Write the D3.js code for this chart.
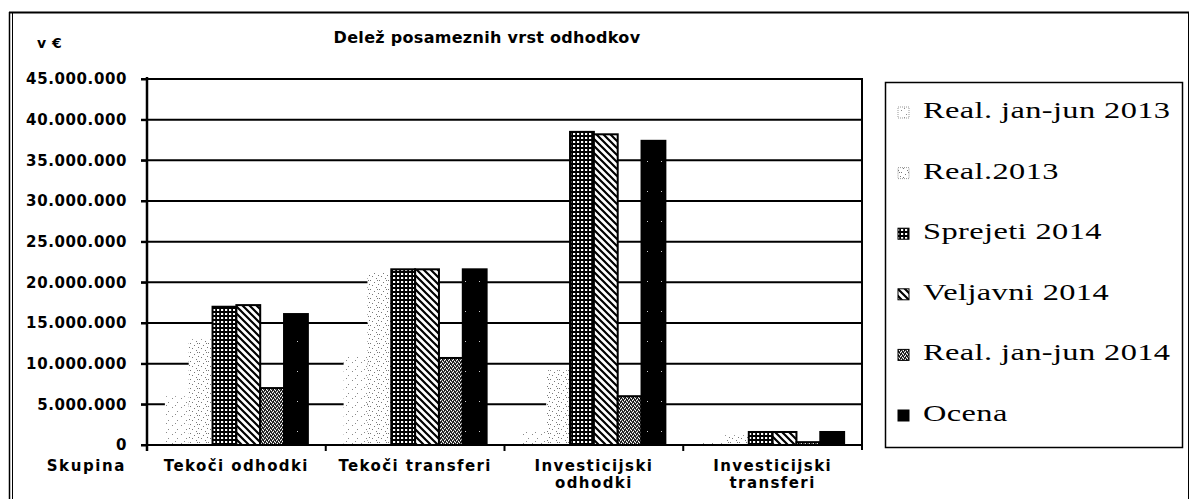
<!DOCTYPE html>
<html><head><meta charset="utf-8">
<script src="https://cdn.jsdelivr.net/npm/d3@7"></script>
<style>
html,body{margin:0;padding:0;background:#fff;}
svg{display:block;}
.ax{font-family:"DejaVu Sans",sans-serif;font-weight:bold;font-size:15px;fill:#000;}
.lg{font-family:"Liberation Serif","Times New Roman",serif;font-size:24px;fill:#000;}
</style></head>
<body>
<svg id="c" width="1194" height="499"></svg>
<script>
const categories = ["Tekoči odhodki", "Tekoči transferi", "Investicijski odhodki", "Investicijski transferi"];
const seriesNames = ["Real. jan-jun 2013", "Real.2013", "Sprejeti 2014", "Veljavni 2014", "Real. jan-jun 2014", "Ocena"];
const realJanJun2013 = [6000000, 11000000, 1600000, 300000];
const real2013 = [13000000, 21200000, 9200000, 1200000];
const sprejeti2014 = [17000000, 21600000, 38500000, 1600000];
const veljavni2014 = [17200000, 21600000, 38200000, 1600000];
const realJanJun2014 = [7000000, 10700000, 6000000, 350000];
const ocena = [16100000, 21600000, 37400000, 1600000];
const yTicks = [0, 5000000, 10000000, 15000000, 20000000, 25000000, 30000000, 35000000, 40000000, 45000000];
const titleText = "Delež posameznih vrst odhodkov";
const unitText = "v €";
const axisTitle = "Skupina";

const seriesValues = [realJanJun2013, real2013, sprejeti2014, veljavni2014, realJanJun2014, ocena];

const svg = d3.select("#c");
const locale = d3.formatLocale({decimal: ",", thousands: ".", grouping: [3], currency: ["", "€"]});
const fmt = locale.format(",d");

// patterns
const defs = svg.append("defs");
function dotPattern(id, dots, color) {
  const p = defs.append("pattern").attr("id", id).attr("patternUnits", "userSpaceOnUse").attr("width", 9).attr("height", 9);
  p.append("rect").attr("width", 9).attr("height", 9).attr("fill", "#fff");
  dots.forEach(d => p.append("rect").attr("x", d[0]).attr("y", d[1]).attr("width", 1).attr("height", 1).attr("fill", color));
}
dotPattern("p0", [[1, 2], [6, 6], [4, 0]], "#8a8a8a");
dotPattern("p1", [[1, 1], [5, 3], [3, 6], [7, 8], [0, 5], [8, 1]], "#777");
{
  const p = defs.append("pattern").attr("id", "p2").attr("patternUnits", "userSpaceOnUse").attr("width", 4).attr("height", 4);
  p.append("rect").attr("width", 4).attr("height", 4).attr("fill", "#000");
  p.append("rect").attr("x", 1).attr("y", 1).attr("width", 2.2).attr("height", 2).attr("fill", "#fff");
}
{
  const p = defs.append("pattern").attr("id", "p3").attr("patternUnits", "userSpaceOnUse").attr("width", 7).attr("height", 7);
  p.append("rect").attr("width", 7).attr("height", 7).attr("fill", "#fff");
  p.append("path").attr("d", "M-1,-1 L8,8 M-1,6 L1,8 M6,-1 L8,1").attr("stroke", "#000").attr("stroke-width", 2.2);
}
{
  const p = defs.append("pattern").attr("id", "p4").attr("patternUnits", "userSpaceOnUse").attr("width", 4).attr("height", 4);
  p.append("rect").attr("width", 4).attr("height", 4).attr("fill", "#555");
  [[0, 0], [2, 1], [1, 3], [3, 2]].forEach(d => p.append("rect").attr("x", d[0]).attr("y", d[1]).attr("width", 1).attr("height", 1).attr("fill", "#fff"));
  [[1, 1], [3, 0], [0, 2], [2, 3]].forEach(d => p.append("rect").attr("x", d[0]).attr("y", d[1]).attr("width", 1).attr("height", 1).attr("fill", "#000"));
}
{
  const p = defs.append("pattern").attr("id", "p5").attr("patternUnits", "userSpaceOnUse").attr("width", 14).attr("height", 30);
  p.append("rect").attr("width", 14).attr("height", 30).attr("fill", "#000");
  p.append("rect").attr("x", 3).attr("y", 11).attr("width", 1).attr("height", 1).attr("fill", "#ccc");
}
const fills = ["url(#p0)", "url(#p1)", "url(#p2)", "url(#p3)", "url(#p4)", "url(#p5)"];
const strokes = ["none", "none", "#000", "#000", "#000", "#000"];

// outer frame
svg.append("line").attr("x1", 9.5).attr("x2", 9.5).attr("y1", 12).attr("y2", 499).attr("stroke", "#000").attr("stroke-width", 1.5);
svg.append("line").attr("x1", 12.5).attr("x2", 12.5).attr("y1", 12).attr("y2", 499).attr("stroke", "#000").attr("stroke-width", 1);
svg.append("line").attr("x1", 9).attr("x2", 1189).attr("y1", 12.5).attr("y2", 12.5).attr("stroke", "#000").attr("stroke-width", 2);
svg.append("line").attr("x1", 1188.5).attr("x2", 1188.5).attr("y1", 12).attr("y2", 499).attr("stroke", "#000").attr("stroke-width", 1);

const pL = 147, pR = 862, pT = 79, pB = 445;
const x0 = d3.scaleBand().domain(categories).range([pL, pR]).padding(0);
const bw = x0.bandwidth();
const x1 = d3.scaleBand().domain(seriesNames).range([bw * 0.1, bw * 0.9]).padding(0);
const y = d3.scaleLinear().domain([0, 45000000]).range([pB, pT]);

// gridlines
svg.append("g").selectAll("line").data(yTicks.filter(t => t > 0)).join("line")
  .attr("x1", pL - 6).attr("x2", pR).attr("y1", d => y(d)).attr("y2", d => y(d))
  .attr("stroke", "#000").attr("stroke-width", 2);
// plot right border
svg.append("line").attr("x1", pR).attr("x2", pR).attr("y1", pT - 1).attr("y2", pB + 5).attr("stroke", "#000").attr("stroke-width", 2);

// bars
const g = svg.append("g");
categories.forEach((c, ci) => {
  seriesNames.forEach((s, si) => {
    const v = seriesValues[si][ci];
    g.append("rect")
      .attr("x", x0(c) + x1(s))
      .attr("y", y(v))
      .attr("width", x1.bandwidth())
      .attr("height", pB - y(v))
      .attr("fill", fills[si])
      .attr("stroke", strokes[si])
      .attr("stroke-width", 2);
  });
});

// axes lines
svg.append("line").attr("x1", pL).attr("x2", pL).attr("y1", pT - 2).attr("y2", pB + 6).attr("stroke", "#000").attr("stroke-width", 2.5);
svg.append("line").attr("x1", pL - 6).attr("x2", pR).attr("y1", pB).attr("y2", pB).attr("stroke", "#000").attr("stroke-width", 2);
const yAxis = svg.append("g").attr("transform", `translate(${pL},0)`)
  .call(d3.axisLeft(y).tickValues(yTicks).tickFormat(fmt).tickSize(6).tickPadding(14));
yAxis.select(".domain").remove();
yAxis.selectAll(".tick line").attr("stroke", "#000").attr("stroke-width", 2);
yAxis.selectAll(".tick text").attr("class", "ax").style("letter-spacing", "0.6px");
yAxis.attr("font-family", null).attr("font-size", null);

// x ticks
svg.append("g").selectAll("line").data(categories.slice(1)).join("line")
  .attr("x1", d => x0(d)).attr("x2", d => x0(d)).attr("y1", pB).attr("y2", pB + 6)
  .attr("stroke", "#000").attr("stroke-width", 2);

// category labels
categories.forEach(c => {
  const words = c.length > 16 ? c.split(" ") : [c];
  const t = svg.append("text").attr("class", "ax").attr("text-anchor", "middle").style("letter-spacing", "1.4px")
    .attr("x", x0(c) + bw / 2).attr("y", 471);
  words.forEach((w, i) => t.append("tspan").attr("x", x0(c) + bw / 2).attr("dy", i === 0 ? 0 : 17).text(w));
});
svg.append("text").attr("class", "ax").attr("x", 126).attr("y", 471).attr("text-anchor", "end").style("letter-spacing", "1.6px").text(axisTitle);

// title & unit
svg.append("text").attr("class", "ax").attr("x", 487).attr("y", 43).attr("text-anchor", "middle").style("font-size", "16px").style("letter-spacing", "0.3px").text(titleText);
svg.append("text").attr("class", "ax").attr("x", 37).attr("y", 48).style("font-size", "14px").style("letter-spacing", "0.5px").text(unitText);

// legend
svg.append("rect").attr("x", 885.5).attr("y", 82.5).attr("width", 297).attr("height", 365).attr("fill", "#fff").attr("stroke", "#000").attr("stroke-width", 1.5);
seriesNames.forEach((s, i) => {
  const by = 118 + i * 60.6;
  svg.append("rect").attr("x", 898).attr("y", by - 11).attr("width", 11).attr("height", 11)
    .attr("fill", fills[i]).attr("stroke", i < 2 ? "#999" : "#000").attr("stroke-width", 1)
    .attr("stroke-dasharray", i < 2 ? "1,1" : null);
  svg.append("text").attr("class", "lg").attr("transform", `translate(923,${by}) scale(1.35,1)`)
    .style("letter-spacing", "0.3px").text(s);
});
</script>
</body></html>
